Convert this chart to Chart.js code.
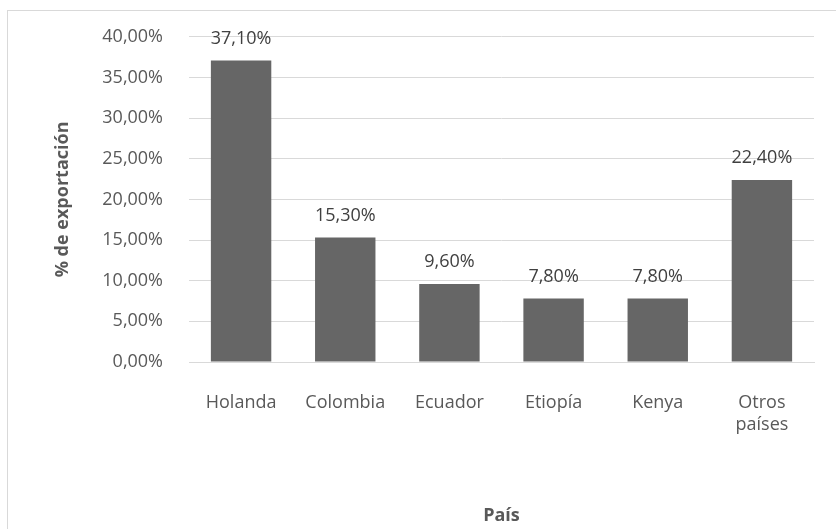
<!DOCTYPE html>
<html>
<head>
<meta charset="utf-8">
<script src="https://cdn.jsdelivr.net/npm/chart.js@4/dist/chart.umd.min.js"></script>
<style>
  html, body { margin: 0; padding: 0; background: #ffffff; }
  #wrap { position: relative; width: 836px; height: 529px; overflow: hidden; }
  #frame { position: absolute; left: 7px; top: 10px; width: 900px; height: 600px; border: 1px solid #d9d9d9; box-sizing: border-box; }
  #chart { position: absolute; left: 0; top: 0; }
</style>
</head>
<body>
<div id="wrap">
  <div id="frame"></div>
  <canvas id="chart" width="836" height="529"></canvas>
</div>
<script>
const paises = ['Holanda', 'Colombia', 'Ecuador', 'Etiopía', 'Kenya', ['Otros', 'países']];
const exportacion = [37.1, 15.3, 9.6, 7.8, 7.8, 22.4];
const yTicks = [0, 5, 10, 15, 20, 25, 30, 35, 40];

const fmt = v => v.toFixed(2).replace('.', ',') + '%';
const fontFamily = '"Open Sans", sans-serif';

// writes the value over each bar
const barLabels = {
  id: 'barLabels',
  afterDatasetsDraw(chart) {
    const ctx = chart.ctx;
    const meta = chart.getDatasetMeta(0);
    ctx.save();
    ctx.font = '18px ' + fontFamily;
    ctx.fillStyle = '#404040';
    ctx.textAlign = 'center';
    ctx.textBaseline = 'bottom';
    meta.data.forEach((bar, i) => {
      ctx.fillText(fmt(exportacion[i]), bar.x, bar.y - 13);
    });
    ctx.restore();
  }
};

new Chart(document.getElementById('chart'), {
  type: 'bar',
  data: {
    labels: paises,
    datasets: [{
      data: exportacion,
      backgroundColor: '#666666',
      borderWidth: 0,
      barPercentage: 0.58,
      categoryPercentage: 1
    }]
  },
  options: {
    responsive: false,
    animation: false,
    layout: { padding: { left: 52, right: 22, top: 33, bottom: 2 } },
    plugins: { legend: { display: false }, tooltip: { enabled: false } },
    scales: {
      x: {
        grid: { display: false },
        border: { color: '#d9d9d9', width: 1 },
        ticks: { color: '#595959', font: { family: fontFamily, size: 18 }, padding: 22, maxRotation: 0 },
        title: { display: true, text: 'País', color: '#595959', font: { family: fontFamily, size: 18, weight: 'bold' }, padding: { top: 0, bottom: 0 } },
        afterFit(scale) { scale.height = 165; }
      },
      y: {
        min: 0,
        max: 40,
        afterBuildTicks(scale) { scale.ticks = yTicks.map(v => ({ value: v })); },
        grid: { color: '#d9d9d9', drawTicks: false },
        border: { display: false },
        ticks: { color: '#595959', font: { family: fontFamily, size: 18 }, padding: 26, callback: v => fmt(v) },
        title: { display: true, text: '% de exportación', color: '#595959', font: { family: fontFamily, size: 18, weight: 'bold' }, padding: 0 },
        afterFit(scale) { scale.width = 137; }
      }
    }
  },
  plugins: [barLabels]
});
</script>
</body>
</html>
